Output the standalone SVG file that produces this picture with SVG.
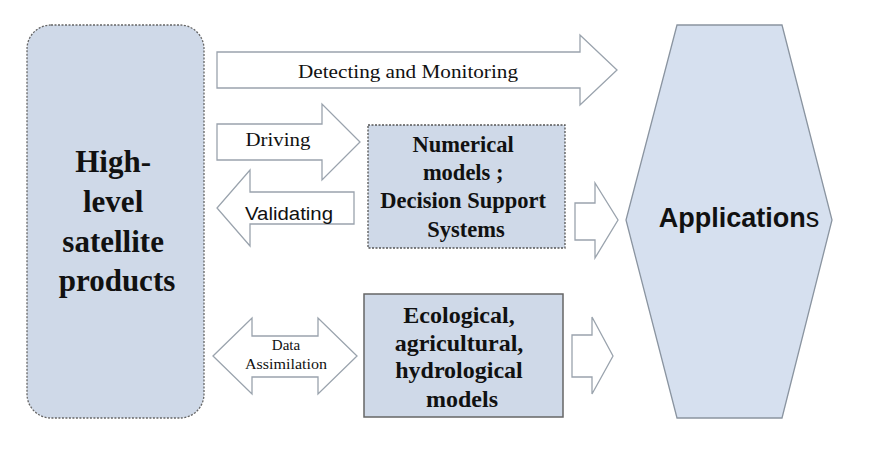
<svg xmlns="http://www.w3.org/2000/svg" width="870" height="450" viewBox="0 0 870 450">
<style>
.bg{fill:#ffffff}
.arrow{fill:#ffffff;stroke:#9aa3ad;stroke-width:1.3}
.node{fill:#cfd9e8}
.serif{font-family:'Liberation Serif','DejaVu Serif','Times New Roman',Times,serif;fill:#111}
.sans{font-family:'Liberation Sans','DejaVu Sans',Arial,sans-serif;fill:#111}
.b{font-weight:bold}
</style>
<rect class="bg" x="0" y="0" width="870" height="450"/>
<g id="connectors">
<polygon id="arrow-detecting" class="arrow" points="217,52 580,52 580,35 617,70 580,105 580,88 217,88"/>
<polygon id="arrow-driving" class="arrow" points="217,124 322,124 322,104 360,142 322,180 322,160 217,160"/>
<polygon id="arrow-validating" class="arrow" points="354,192 250,192 250,170 217,208 250,246 250,224 354,224"/>
<polygon id="arrow-assimilation" class="arrow" points="213,356 252,318 252,336 318,336 318,318 357,356 318,394 318,377 252,377 252,394"/>
<polygon id="arrow-num-app" class="arrow" points="575,203 595,203 595,183 618,220 595,258 595,240 575,240"/>
<polygon id="arrow-eco-app" class="arrow" points="572,335 592,335 592,317 613,356 592,394 592,377 572,377"/>
<text class="serif" font-family="Liberation Serif, serif" x="408" y="78" font-size="19" text-anchor="middle" textLength="220" lengthAdjust="spacingAndGlyphs">Detecting and Monitoring</text>
<text class="serif" font-family="Liberation Serif, serif" x="278" y="146" font-size="19" text-anchor="middle" textLength="65" lengthAdjust="spacingAndGlyphs">Driving</text>
<text class="sans" x="289" y="220" font-size="18" text-anchor="middle" textLength="88" lengthAdjust="spacingAndGlyphs">Validating</text>
<text class="serif" font-family="Liberation Serif, serif" x="286" y="350" font-size="15" text-anchor="middle">Data</text>
<text class="serif" font-family="Liberation Serif, serif" x="286" y="369" font-size="15" text-anchor="middle" textLength="82" lengthAdjust="spacingAndGlyphs">Assimilation</text>
</g>
<g id="node-products">
<rect class="node" x="27" y="25" width="177" height="393" rx="24" ry="24" stroke="#666" stroke-width="1.3" stroke-dasharray="2,1.5"/>
<text class="serif b" font-family="Liberation Serif, serif" font-size="31" text-anchor="middle">
<tspan x="117" y="172">High-</tspan>
<tspan x="117" y="212">level</tspan>
<tspan x="117" y="252">satellite</tspan>
<tspan x="117" y="291">products</tspan>
</text>
</g>
<g id="node-numerical">
<rect class="node" x="368" y="125" width="197" height="123" stroke="#555" stroke-width="1.3" stroke-dasharray="2,1.5"/>
<text class="serif b" font-family="Liberation Serif, serif" font-size="22.5" text-anchor="middle">
<tspan x="466" y="152">Numerical</tspan>
<tspan x="466" y="180">models ;</tspan>
<tspan x="466" y="208">Decision Support</tspan>
<tspan x="466" y="237">Systems</tspan>
</text>
</g>
<g id="node-ecological">
<rect class="node" x="364" y="294" width="199" height="123" stroke="#666" stroke-width="1.5"/>
<text class="serif b" font-family="Liberation Serif, serif" font-size="24" text-anchor="middle">
<tspan x="462" y="323">Ecological,</tspan>
<tspan x="462" y="351">agricultural,</tspan>
<tspan x="462" y="378">hydrological</tspan>
<tspan x="462" y="407">models</tspan>
</text>
</g>
<g id="node-applications">
<polygon points="677,25 782,25 832,220 782,418 677,418 626,220" fill="#d6e0ef" stroke="#8a94a0" stroke-width="1.3"/>
<text class="sans b" x="739" y="227" font-size="27" text-anchor="middle">Application<tspan font-weight="normal">s</tspan></text>
</g>
</svg>
